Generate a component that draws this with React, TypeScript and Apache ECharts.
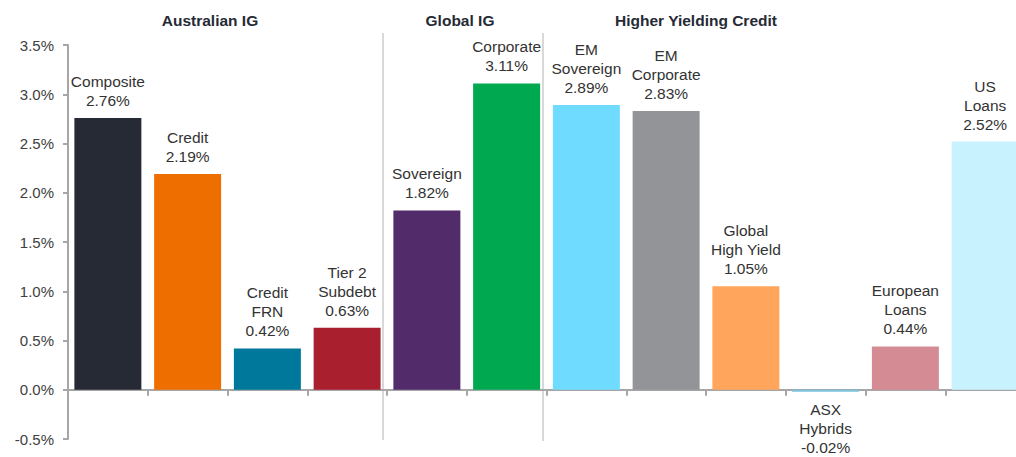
import React, { useEffect, useRef } from "react";
import * as echarts from "echarts";

const categories = [
  "Composite",
  "Credit",
  "Credit\nFRN",
  "Tier 2\nSubdebt",
  "Sovereign",
  "Corporate",
  "EM\nSovereign",
  "EM\nCorporate",
  "Global\nHigh Yield",
  "ASX\nHybrids",
  "European\nLoans",
  "US\nLoans",
];
const values = [2.76, 2.19, 0.42, 0.63, 1.82, 3.11, 2.89, 2.83, 1.05, -0.02, 0.44, 2.52];
const colors = [
  "#262a35",
  "#ef6e00",
  "#00789c",
  "#aa1f2e",
  "#522b6b",
  "#00a84f",
  "#6fdbff",
  "#939498",
  "#ffa65c",
  "#7cc3de",
  "#d58b93",
  "#c9f2ff",
];
const groupHeaders = ["Australian IG", "Global IG", "Higher Yielding Credit"];
const yTicks = { min: -0.5, max: 3.5, interval: 0.5 };

const FONT = "'Liberation Sans', Arial, sans-serif";

export default function App() {
  const ref = useRef<HTMLDivElement>(null);
  useEffect(() => {
    if (!ref.current) return;
    const chart = echarts.init(ref.current, undefined, { renderer: "svg" });
    chart.setOption({
      animation: false,
      textStyle: { fontFamily: FONT },
      grid: { left: 68, right: 0, top: 45, bottom: 18, containLabel: false },
      xAxis: {
        type: "category",
        data: categories,
        axisLine: { show: true, onZero: true, lineStyle: { color: "#a6a6a6", width: 2 } },
        axisTick: { show: true, length: 6, lineStyle: { color: "#a6a6a6", width: 2 } },
        axisLabel: { show: false },
        splitLine: { show: false },
      },
      yAxis: {
        type: "value",
        min: yTicks.min,
        max: yTicks.max,
        interval: yTicks.interval,
        axisLine: { show: true, lineStyle: { color: "#a6a6a6", width: 2 } },
        axisTick: { show: true, length: 5, lineStyle: { color: "#a6a6a6", width: 2 } },
        splitLine: { show: false },
        axisLabel: {
          formatter: (v: number) => v.toFixed(1) + "%",
          color: "#404040",
          fontSize: 15,
          fontFamily: FONT,
          margin: 14,
        },
      },
      graphic: [
        { type: "line", shape: { x1: 383, y1: 33, x2: 383, y2: 440 }, style: { stroke: "#d9d9d9", lineWidth: 2 } },
        { type: "line", shape: { x1: 543, y1: 33, x2: 543, y2: 441 }, style: { stroke: "#d9d9d9", lineWidth: 2 } },
        {
          type: "text",
          x: 210,
          y: 20,
          style: { text: groupHeaders[0], font: `bold 15.5px ${FONT}`, fill: "#262a35", textAlign: "center", textVerticalAlign: "middle" },
        },
        {
          type: "text",
          x: 460,
          y: 20,
          style: { text: groupHeaders[1], font: `bold 15.5px ${FONT}`, fill: "#262a35", textAlign: "center", textVerticalAlign: "middle" },
        },
        {
          type: "text",
          x: 696,
          y: 20,
          style: { text: groupHeaders[2], font: `bold 15.5px ${FONT}`, fill: "#262a35", textAlign: "center", textVerticalAlign: "middle" },
        },
      ],
      series: [
        {
          type: "bar",
          barCategoryGap: "16%",
          data: values.map((v, i) => ({
            value: v,
            itemStyle: { color: colors[i] },
            label: { position: v < 0 ? "bottom" : "top" },
          })),
          label: {
            show: true,
            distance: 8,
            color: "#333333",
            fontSize: 15.5,
            lineHeight: 19,
            fontFamily: FONT,
            formatter: (p: any) => `${categories[p.dataIndex]}\n${values[p.dataIndex].toFixed(2)}%`,
          },
        },
      ],
    });
    return () => chart.dispose();
  }, []);
  return (
    <div style={{ position: "absolute", left: 0, top: 0, width: 1016, height: 457, overflow: "hidden" }}>
      <div ref={ref} style={{ width: 1025, height: 457 }} />
    </div>
  );
}
